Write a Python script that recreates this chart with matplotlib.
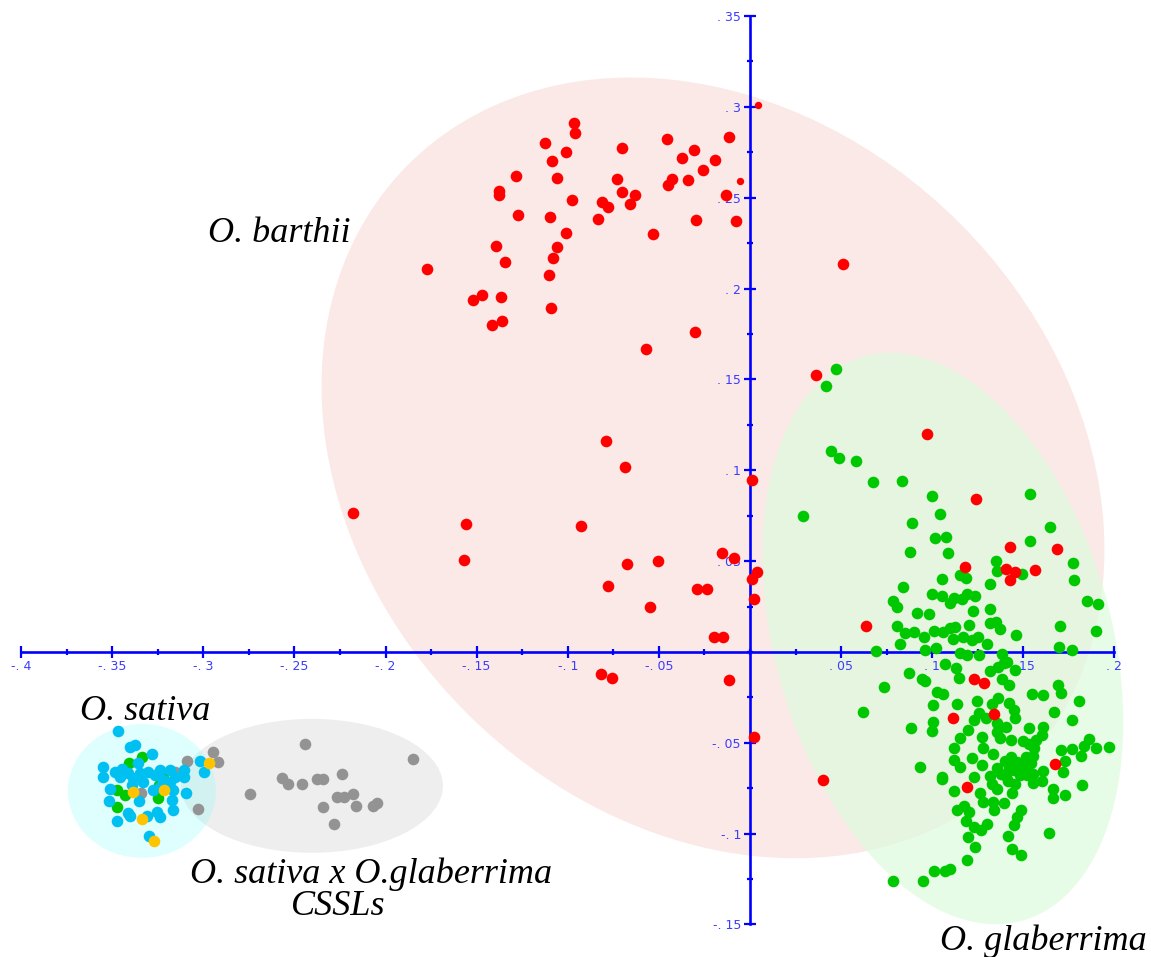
import matplotlib
matplotlib.use("Agg")
import matplotlib.pyplot as plt
from matplotlib.patches import Ellipse
from matplotlib.ticker import MultipleLocator, FixedLocator, FixedFormatter

# ---------------- data ----------------
red_x = [-0.0968, -0.0962, -0.1125, -0.1008, -0.1085, -0.0701, -0.0454, -0.0117, -0.0306, -0.0372,
         -0.0191, -0.0260, -0.0342, -0.0430, -0.0452, -0.0133, -0.0732, -0.0703, -0.0631, -0.0659,
         -0.0814, -0.0780, -0.0836, -0.1286, -0.1058, -0.1378, -0.1378, -0.0979, -0.1272, -0.1096,
         -0.0296, -0.0077, -0.0531, -0.1008, -0.1394, -0.1060, -0.1082, -0.1345, -0.1773, -0.1102,
         -0.1521, -0.1473, -0.1367, -0.1091, -0.1416, -0.1362, -0.0302, -0.0569, -0.0791, -0.0687,
         0.0011, -0.2177, -0.1556, -0.0926, -0.1571, -0.0677, -0.0507, -0.0152, -0.0090, 0.0040,
         0.0011, -0.0778, -0.0289, -0.0234, 0.0020, -0.0551, -0.0198, -0.0148, -0.0820, -0.0759,
         -0.0115, 0.0511, 0.0364, 0.0969, 0.1240, 0.1426, 0.1683, 0.1179, 0.1406, 0.1457,
         0.1563, 0.1429, 0.0637, 0.1232, 0.1285, 0.1116, 0.1341, 0.1675, 0.1193, 0.0022,
         0.0401]
red_y = [0.2910, 0.2855, 0.2800, 0.2754, 0.2704, 0.2774, 0.2824, 0.2833, 0.2763, 0.2719,
         0.2708, 0.2655, 0.2598, 0.2603, 0.2569, 0.2515, 0.2602, 0.2532, 0.2515, 0.2466,
         0.2478, 0.2449, 0.2385, 0.2617, 0.2608, 0.2538, 0.2516, 0.2489, 0.2405, 0.2396,
         0.2378, 0.2374, 0.2302, 0.2308, 0.2236, 0.2231, 0.2170, 0.2147, 0.2108, 0.2073,
         0.1937, 0.1963, 0.1955, 0.1892, 0.1801, 0.1822, 0.1760, 0.1669, 0.1160, 0.1018,
         0.0948, 0.0765, 0.0704, 0.0693, 0.0508, 0.0484, 0.0500, 0.0547, 0.0519, 0.0439,
         0.0404, 0.0363, 0.0349, 0.0345, 0.0290, 0.0249, 0.0083, 0.0083, -0.0121, -0.0145,
         -0.0152, 0.2135, 0.1526, 0.1201, 0.0842, 0.0580, 0.0569, 0.0466, 0.0458, 0.0440,
         0.0453, 0.0396, 0.0141, -0.0147, -0.0172, -0.0362, -0.0341, -0.0616, -0.0745, -0.0468,
         -0.0704]
red_small_x = [0.0042, -0.0055]
red_small_y = [0.3010, 0.2590]

green_x = [0.0474, 0.0416, 0.0445, 0.0490, 0.0580, 0.0674, 0.0836, 0.0999, 0.1536, 0.0289, 0.1041, 0.0892,
           0.1649, 0.1016, 0.1077, 0.1538, 0.0881, 0.1087, 0.1351, 0.1775, 0.1358, 0.1495, 0.1150, 0.1183,
           0.1052, 0.1781, 0.1319, 0.0838, 0.0998, 0.1052, 0.1193, 0.1237, 0.1122, 0.1166, 0.1098, 0.0785,
           0.0805, 0.1850, 0.1911, 0.1226, 0.1318, 0.0919, 0.0983, 0.0807, 0.1317, 0.1352, 0.1201, 0.1699,
           0.0853, 0.0902, 0.1008, 0.1061, 0.1098, 0.1125, 0.1373, 0.1462, 0.1900, 0.0957, 0.1116, 0.1171,
           0.1253, 0.1219, 0.1300, 0.0824, 0.1695, 0.1770, 0.0690, 0.0959, 0.1021, 0.1150, 0.1193, 0.1259,
           0.1385,
           0.1409, 0.1457, 0.1072, 0.1129, 0.0874, 0.0946, 0.0961, 0.1146, 0.1318, 0.1360, 0.1395, 0.1382,
           0.1422, 0.0736, 0.1689, 0.1707, 0.1548, 0.1610, 0.1025, 0.1058, 0.1808, 0.1246, 0.1363, 0.1327,
           0.1422, 0.1002, 0.1137, 0.1666, 0.0622, 0.1256, 0.1449, 0.1457, 0.1228, 0.1294, 0.1769, 0.1002,
           0.1355, 0.0884, 0.0999, 0.1355, 0.1405, 0.1532, 0.1609, 0.1199, 0.1602, 0.1154, 0.1276, 0.1373,
           0.1433, 0.1499, 0.1568, 0.1860, 0.1122, 0.1278, 0.1530, 0.1557, 0.1707, 0.1770, 0.1832, 0.1898,
           0.1971, 0.1819, 0.1336, 0.1220, 0.1122, 0.1515, 0.1555, 0.1400, 0.1464, 0.1541, 0.1728, 0.0935,
           0.1154, 0.1274, 0.1355, 0.1424, 0.1508, 0.1610, 0.1720, 0.1056, 0.1230, 0.1318, 0.1404, 0.1482,
           0.1555,
           0.1054, 0.1122, 0.1263, 0.1327, 0.1358, 0.1418, 0.1454, 0.1555, 0.1602, 0.1662, 0.1662, 0.1437,
           0.1278, 0.1336, 0.1395, 0.1175, 0.1139, 0.1204, 0.1340, 0.1486, 0.1468, 0.1186, 0.1230, 0.1300,
           0.1270, 0.1451, 0.1643, 0.1199, 0.1418, 0.1233, 0.1437, 0.1488, 0.1190, 0.1010, 0.1071, 0.1098,
           0.0950, 0.0787, 0.1820, 0.1729, 0.1450, 0.1480, 0.1520, 0.1380, 0.1430]
green_y = [0.1559, 0.1462, 0.1108, 0.1068, 0.1053, 0.0934, 0.0940, 0.0859, 0.0868, 0.0750, 0.0761, 0.0712,
           0.0686, 0.0629, 0.0635, 0.0611, 0.0550, 0.0545, 0.0499, 0.0491, 0.0447, 0.0429, 0.0422, 0.0406,
           0.0402, 0.0395, 0.0373, 0.0356, 0.0318, 0.0307, 0.0318, 0.0308, 0.0299, 0.0293, 0.0271, 0.0282,
           0.0249, 0.0279, 0.0264, 0.0227, 0.0237, 0.0213, 0.0208, 0.0141, 0.0160, 0.0163, 0.0150, 0.0143,
           0.0103, 0.0110, 0.0117, 0.0110, 0.0134, 0.0139, 0.0125, 0.0095, 0.0116, 0.0083, 0.0070, 0.0081,
           0.0081, 0.0066, 0.0042, 0.0042, 0.0028, 0.0009, 0.0004, 0.0013, 0.0024, -0.0004, -0.0018, -0.0015,
           -0.0009,
           -0.0053, -0.0099, -0.0068, -0.0090, -0.0116, -0.0150, -0.0161, -0.0145, -0.0103, -0.0081, -0.0062, -0.0150,
           -0.0182, -0.0194, -0.0180, -0.0227, -0.0233, -0.0235, -0.0218, -0.0229, -0.0268, -0.0268, -0.0251, -0.0288,
           -0.0279, -0.0290, -0.0286, -0.0332, -0.0330, -0.0337, -0.0319, -0.0365, -0.0374, -0.0365, -0.0374, -0.0383,
           -0.0392, -0.0420, -0.0433, -0.0438, -0.0411, -0.0420, -0.0411, -0.0429, -0.0457, -0.0475, -0.0470, -0.0475,
           -0.0484, -0.0488, -0.0484, -0.0480, -0.0526, -0.0531, -0.0506, -0.0531, -0.0537, -0.0535, -0.0519, -0.0530,
           -0.0523, -0.0572, -0.0563, -0.0585, -0.0594, -0.0576, -0.0572, -0.0603, -0.0605, -0.0613, -0.0603, -0.0636,
           -0.0631, -0.0622, -0.0641, -0.0635, -0.0642, -0.0653, -0.0659, -0.0686, -0.0690, -0.0682, -0.0682, -0.0677,
           -0.0671,
           -0.0702, -0.0766, -0.0774, -0.0728, -0.0756, -0.0712, -0.0728, -0.0719, -0.0712, -0.0756, -0.0803, -0.0774,
           -0.0828, -0.0828, -0.0833, -0.0848, -0.0869, -0.0879, -0.0869, -0.0869, -0.0909, -0.0928, -0.0964, -0.0947,
           -0.0980, -0.0955, -0.0999, -0.1019, -0.1013, -0.1073, -0.1082, -0.1119, -0.1145, -0.1203, -0.1203, -0.1194,
           -0.1263, -0.1263, -0.0732, -0.0787, -0.0650, -0.0620, -0.0680, -0.0670, -0.0580]

sativa_green_x = [-0.3339, -0.3407, -0.3220, -0.3245, -0.3476, -0.3430, -0.3251, -0.3476]
sativa_green_y = [-0.0576, -0.0613, -0.0695, -0.0732, -0.0759, -0.0787, -0.0805, -0.0855]

blue_x = [-0.3467, -0.3403, -0.3376, -0.3284, -0.3361, -0.3553, -0.3553, -0.3485, -0.3448, -0.3412,
          -0.3385, -0.3348, -0.3302, -0.3266, -0.3238, -0.3183, -0.3156, -0.3106, -0.3106, -0.3513,
          -0.3393, -0.3330, -0.3275, -0.3183, -0.3165, -0.3220, -0.3096, -0.3517, -0.3352, -0.3174,
          -0.3165, -0.3412, -0.3403, -0.3311, -0.3256, -0.3238, -0.3476, -0.3297, -0.3019, -0.2995,
          -0.3458, -0.3238]
blue_y = [-0.0433, -0.0521, -0.0512, -0.0561, -0.0613, -0.0631, -0.0686, -0.0659, -0.0646, -0.0668,
          -0.0695, -0.0668, -0.0659, -0.0677, -0.0649, -0.0649, -0.0686, -0.0649, -0.0686, -0.0752,
          -0.0732, -0.0714, -0.0759, -0.0714, -0.0759, -0.0704, -0.0778, -0.0818, -0.0818, -0.0815,
          -0.0870, -0.0884, -0.0903, -0.0903, -0.0879, -0.0906, -0.0930, -0.1013, -0.0598, -0.0660,
          -0.0686, -0.0741]

yellow_x = [-0.3385, -0.3339, -0.3269, -0.2969, -0.3216]
yellow_y = [-0.0770, -0.0921, -0.1040, -0.0613, -0.0759]

gray_x = [-0.2442, -0.2946, -0.3088, -0.2922, -0.1851, -0.2570, -0.2534, -0.2460, -0.2375, -0.2342,
          -0.2238, -0.2744, -0.2268, -0.2227, -0.2177, -0.2342, -0.2162, -0.2071, -0.2049, -0.2283,
          -0.3028, -0.3156, -0.3342]
gray_y = [-0.0505, -0.0552, -0.0598, -0.0604, -0.0589, -0.0695, -0.0728, -0.0728, -0.0701, -0.0701,
          -0.0671, -0.0783, -0.0800, -0.0796, -0.0781, -0.0855, -0.0846, -0.0846, -0.0833, -0.0947,
          -0.0866, -0.0659, -0.0778]

x_ticks = [-0.4, -0.35, -0.3, -0.25, -0.2, -0.15, -0.1, -0.05, 0.05, 0.1, 0.15, 0.2]
x_tick_labels = ["-. 4", "-. 35", "-. 3", "-. 25", "-. 2", "-. 15", "-. 1", "-. 05",
                 ". 05", ". 1", ". 15", ". 2"]
y_ticks = [-0.15, -0.1, -0.05, 0.05, 0.1, 0.15, 0.2, 0.25, 0.3, 0.35]
y_tick_labels = ["-. 15", "-. 1", "-. 05", ". 05", ". 1", ". 15", ". 2", ". 25", ". 3", ". 35"]

# ---------------- figure ----------------
fig = plt.figure(figsize=(11.51, 9.57), dpi=100)
ax = fig.add_axes([0, 0, 1, 1])
ax.set_xlim(-0.4116, 0.2201)
ax.set_ylim(-0.1679, 0.3588)

# group ellipses
ax.add_patch(Ellipse((-0.0203, 0.1013), 0.4726, 0.382, angle=-45,
                     facecolor="#FAE9E6", edgecolor="none", zorder=0.5))
ax.add_patch(Ellipse((0.1059, 0.0074), 0.3226, 0.1846, angle=105.7,
                     facecolor=(221/255, 251/255, 221/255), alpha=0.68, edgecolor="none", zorder=0.6))
ax.add_patch(Ellipse((-0.2404, -0.0737), 0.1438, 0.0737, angle=0,
                     facecolor="#EEEEEE", edgecolor="none", zorder=0.5))
ax.add_patch(Ellipse((-0.3337, -0.0765), 0.0812, 0.0737, angle=0,
                     facecolor=(0.5, 1.0, 1.0), alpha=0.25, edgecolor="none", zorder=0.6))

# axes through origin
for s in ["top", "right"]:
    ax.spines[s].set_visible(False)
ax.spines["left"].set_position(("data", 0))
ax.spines["bottom"].set_position(("data", 0))
ax.spines["left"].set_bounds(-0.15, 0.35)
ax.spines["bottom"].set_bounds(-0.4, 0.2)
for s in ["left", "bottom"]:
    ax.spines[s].set_color("#0000FF")
    ax.spines[s].set_linewidth(1.9)

ax.xaxis.set_major_locator(FixedLocator(x_ticks))
ax.xaxis.set_major_formatter(FixedFormatter(x_tick_labels))
ax.yaxis.set_major_locator(FixedLocator(y_ticks))
ax.yaxis.set_major_formatter(FixedFormatter(y_tick_labels))
ax.xaxis.set_minor_locator(MultipleLocator(0.025))
ax.yaxis.set_minor_locator(MultipleLocator(0.025))
ax.tick_params(which="major", direction="inout", length=9, width=1.6, color="#0000FF",
               labelcolor="#3C3CFF", labelsize=9, pad=1)
ax.tick_params(which="minor", direction="inout", length=5, width=1.6, color="#0000FF")
ax.tick_params(axis="y", which="major", pad=2)

# points
ms = 70
ax.scatter(gray_x, gray_y, s=ms, color="#939393", linewidths=0, zorder=3)
ax.scatter(green_x, green_y, s=ms, color="#00C800", linewidths=0, zorder=3)
ax.scatter(sativa_green_x, sativa_green_y, s=ms, color="#00C800", linewidths=0, zorder=3)
ax.scatter(blue_x, blue_y, s=ms, color="#00C0F2", linewidths=0, zorder=3.1)
ax.scatter(yellow_x, yellow_y, s=ms, color="#FFC400", linewidths=0, zorder=3.2)
ax.scatter(red_x, red_y, s=ms, color="#FF0000", linewidths=0, zorder=3.3)
ax.scatter(red_small_x, red_small_y, s=28, color="#FF0000", linewidths=0, zorder=3.3)

# group labels
lab = dict(family="Liberation Serif", style="italic", fontsize=26, color="black", zorder=4)
ax.text(-0.2975, 0.2256, "O. barthii", ha="left", va="baseline", **lab)
ax.text(-0.3677, -0.0374, "O. sativa", ha="left", va="baseline", **lab)
ax.text(-0.2080, -0.1271, "O. sativa x O.glaberrima", ha="center", va="baseline", **lab)
ax.text(-0.2261, -0.1447, "CSSLs", ha="center", va="baseline", **lab)
ax.text(0.1043, -0.1640, "O. glaberrima", ha="left", va="baseline", **lab)

fig.savefig("out.png", dpi=100)
